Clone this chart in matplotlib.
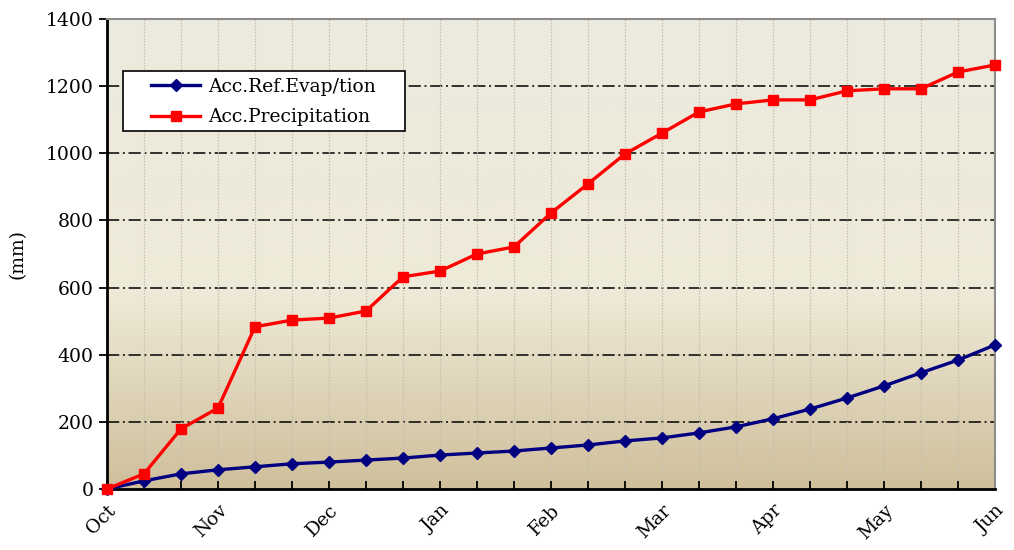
import numpy as np
import matplotlib.pyplot as plt
from matplotlib.colors import LinearSegmentedColormap
from matplotlib.patches import Rectangle

# ── data (three points per month, Oct -> Jun) ──
months = ["Oct", "Nov", "Dec", "Jan", "Feb", "Mar", "Apr", "May", "Jun"]
evap = [0, 24, 45, 57, 66, 75, 80, 86, 92, 101, 107, 113, 122, 131, 143,
        152, 167, 185, 209, 238, 271, 307, 346, 384, 429]
precip = [0, 45, 179, 241, 483, 503, 509, 530, 632, 649, 700, 721, 822, 909,
          998, 1060, 1123, 1147, 1159, 1159, 1186, 1192, 1192, 1242, 1263]

x = np.arange(len(evap))

plt.rcParams['font.family'] = ['DejaVu Serif']

W, H = 1014, 550
fig = plt.figure(figsize=(W / 100, H / 100), dpi=100)
ax = fig.add_axes([0.1055, 0.111, 0.8758, 0.8545])

# background gradient (light top, tan bottom)
cmap = LinearSegmentedColormap.from_list(
    "bg", [(0.0, "#cfbf9b"), (0.42, "#efead8"), (1.0, "#eceadf")])
grad = np.linspace(0, 1, 256).reshape(-1, 1)
ax.imshow(grad, cmap=cmap, origin="lower", aspect="auto",
          extent=[0, 1, 0, 1], transform=ax.transAxes, zorder=0)

# grids
for v in range(200, 1400, 200):
    ax.axhline(v, color="black", lw=1.1, dashes=(8, 2.4, 1.3, 2.4), zorder=1)
for xi in x[1:-1]:
    ax.axvline(xi, color="#c4bfae", lw=0.9, ls=(0, (1.2, 1.2)), zorder=1)

ax.plot(x, evap, color="#000080", lw=2.4, marker="D", ms=6.5,
        label="Acc.Ref.Evap/tion", zorder=3, clip_on=False)
ax.plot(x, precip, color="#ff0000", lw=2.4, marker="s", ms=7,
        label="Acc.Precipitation", zorder=4, clip_on=False)

ax.set_xlim(0, len(x) - 1)
ax.set_ylim(0, 1400)
ax.set_yticks(range(0, 1401, 200))
ax.set_xticks(x, minor=False)
ax.set_xticklabels([months[i // 3] if i % 3 == 0 else "" for i in x],
                   rotation=45, ha="right", va="top", fontsize=13.5,
                   rotation_mode="anchor")
ax.tick_params(axis="x", direction="in", length=6, width=1.3, pad=9)
ax.tick_params(axis="y", direction="out", length=6, width=1.3, labelsize=13.5)
ax.set_ylabel("(mm)", fontsize=13.5, labelpad=14)

for s in ["left", "bottom"]:
    ax.spines[s].set_color("black")
    ax.spines[s].set_linewidth(2)
for s in ["right", "top"]:
    ax.spines[s].set_color("#8c8c8c")
    ax.spines[s].set_linewidth(1.5)

# legend box (wide padding like the original)
box = Rectangle((123 / W, 1 - 131 / H), 282 / W, 60 / H, transform=fig.transFigure,
                facecolor="white", edgecolor="black", lw=1.2, zorder=5, clip_on=False)
ax.add_patch(box)
leg = ax.legend(loc="center left", bbox_to_anchor=(142 / W, 1 - 102 / H),
                bbox_transform=fig.transFigure, fontsize=13.5, frameon=False,
                handlelength=2.6, handletextpad=0.4, borderpad=0,
                labelspacing=0.65)
leg.set_zorder(6)

fig.savefig("out.png", dpi=100)
